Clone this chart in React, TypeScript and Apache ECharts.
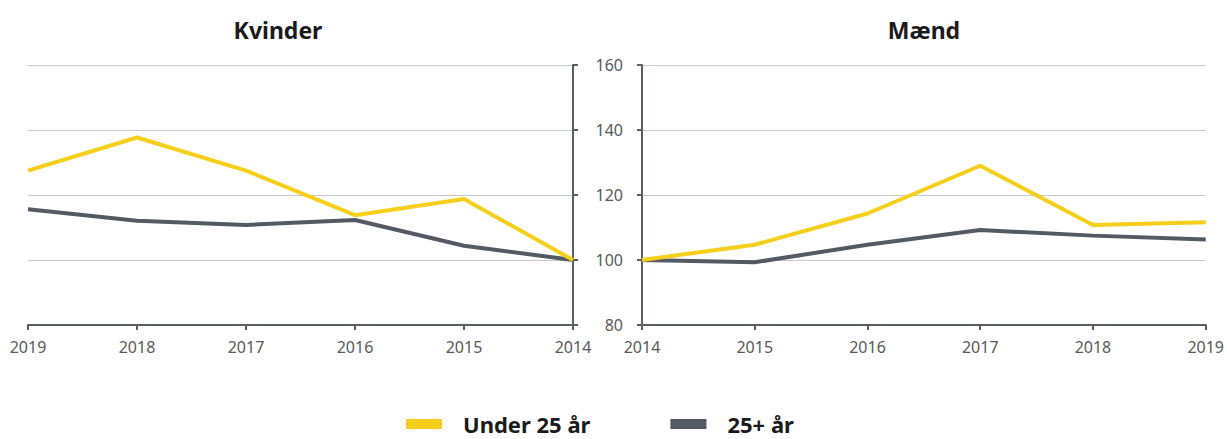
import React, { useEffect, useRef } from "react";
import * as echarts from "echarts";

const years = ["2014", "2015", "2016", "2017", "2018", "2019"];
const yTicks = [80, 100, 120, 140, 160];
const kvinderUnder25 = [100, 118.8, 113.8, 127.5, 137.7, 127.5];
const kvinder25plus = [100, 104.4, 112.3, 110.8, 112.1, 115.6];
const maendUnder25 = [100, 104.7, 114.3, 129.0, 110.8, 111.6];
const maend25plus = [100, 99.3, 104.7, 109.2, 107.5, 106.3];
const panelTitles = ["Kvinder", "Mænd"];
const seriesNames = ["Under 25 år", "25+ år"];

const YELLOW = "#F5CF1A";
const GRAY = "#535A63";
const AXIS = "#5A5F66";
const FONT = "'Noto Sans', 'Open Sans', sans-serif";

export default function App() {
  const ref = useRef<HTMLDivElement>(null);
  useEffect(() => {
    if (!ref.current) return;
    const chart = echarts.init(ref.current, null, { renderer: "svg" });
    const xAxisBase = (gridIndex: number, inverse: boolean) => ({
      type: "category" as const,
      gridIndex,
      data: years,
      inverse,
      boundaryGap: false,
      axisLine: { show: true, lineStyle: { color: AXIS, width: 2 } },
      axisTick: { show: true, length: 5, lineStyle: { color: AXIS, width: 2 } },
      axisLabel: { color: "#595959", fontSize: 16, margin: 14, fontFamily: FONT, interval: 0 },
      splitLine: { show: false },
    });
    const yAxisBase = (gridIndex: number, position: "left" | "right", showLabel: boolean) => ({
      type: "value" as const,
      gridIndex,
      position,
      min: yTicks[0],
      max: yTicks[yTicks.length - 1],
      interval: 20,
      axisLine: { show: true, lineStyle: { color: AXIS, width: 2 } },
      axisTick: { show: true, length: 5, lineStyle: { color: AXIS, width: 2 } },
      axisLabel: { show: showLabel, color: "#595959", fontSize: 16, margin: 19, fontFamily: FONT },
      splitLine: { show: true, lineStyle: { color: "#C8C8C8", width: 1 } },
    });
    const line = (name: string, data: number[], color: string, idx: number) => ({
      name,
      type: "line" as const,
      xAxisIndex: idx,
      yAxisIndex: idx,
      data,
      symbol: "none",
      lineStyle: { color, width: 4 },
      itemStyle: { color },
      z: color === YELLOW ? 3 : 2,
    });
    const titleStyle = {
      fontFamily: FONT,
      fontSize: 23,
      fontWeight: "bold" as const,
      color: "#1a1a1a",
      lineHeight: 30,
    };
    chart.setOption({
      animation: false,
      backgroundColor: "#ffffff",
      title: [
        { text: panelTitles[0], left: 278, top: 15, padding: 0, textAlign: "center", textStyle: titleStyle },
        { text: panelTitles[1], left: 924, top: 15, padding: 0, textAlign: "center", textStyle: titleStyle },
      ],
      legend: {
        data: seriesNames,
        left: 406,
        top: 413,
        padding: 0,
        icon: "rect",
        itemWidth: 36,
        itemHeight: 10,
        itemGap: 80,
        textStyle: {
          fontFamily: FONT,
          fontSize: 22,
          fontWeight: "bold",
          color: "#1a1a1a",
          lineHeight: 20,
          padding: [0, 0, 0, 16],
        },
      },
      grid: [
        { left: 28, right: 1227 - 573, top: 65, height: 260 },
        { left: 642, right: 1227 - 1207, top: 65, height: 260 },
      ],
      xAxis: [xAxisBase(0, true), xAxisBase(1, false)],
      yAxis: [yAxisBase(0, "right", false), yAxisBase(1, "left", true)],
      series: [
        line(seriesNames[1], kvinder25plus, GRAY, 0),
        line(seriesNames[0], kvinderUnder25, YELLOW, 0),
        line(seriesNames[1], maend25plus, GRAY, 1),
        line(seriesNames[0], maendUnder25, YELLOW, 1),
      ],
    });
    return () => chart.dispose();
  }, []);
  return (
    <div
      ref={ref}
      style={{ position: "absolute", left: 0, top: 0, width: 1227, height: 439 }}
    />
  );
}
